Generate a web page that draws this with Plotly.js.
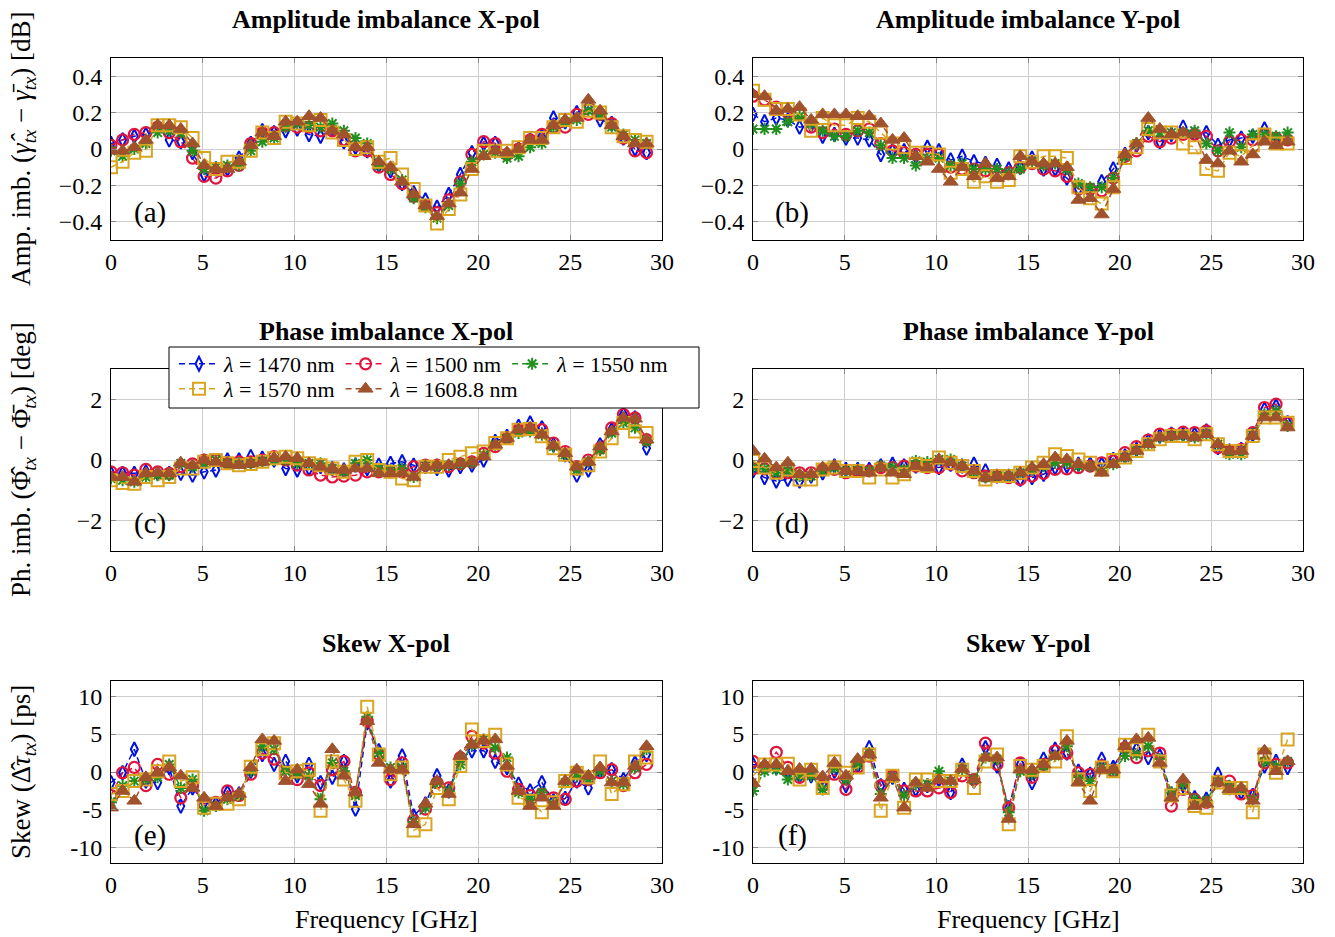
<!DOCTYPE html>
<html><head><meta charset="utf-8">
<script src="https://cdn.plot.ly/plotly-3.0.1.min.js"></script>
<style>html,body{margin:0;padding:0;background:#fff}</style>
</head><body><div id="chart" style="width:1335px;height:937px"></div>
<script>
// Frequency grid [GHz]
const freq = [0,0.63,1.27,1.9,2.54,3.17,3.8,4.44,5.07,5.71,6.34,6.97,7.61,8.24,8.88,9.51,10.14,10.78,11.41,12.05,12.68,13.31,13.95,14.58,15.22,15.85,16.48,17.12,17.75,18.39,19.02,19.65,20.29,20.92,21.56,22.19,22.82,23.46,24.09,24.73,25.36,25.99,26.63,27.26,27.9,28.53,29.16];

// (a) Amplitude imbalance X-pol [dB]
const ampX1470 = [0.03,0.05,0.07,0.08,0.12,0.05,0.04,-0.02,-0.14,-0.11,-0.11,-0.05,0.03,0.10,0.09,0.10,0.11,0.08,0.07,0.11,0.04,0.01,-0.01,-0.09,-0.12,-0.19,-0.24,-0.28,-0.32,-0.25,-0.14,-0.02,0.03,0.03,-0.03,0.00,0.05,0.07,0.17,0.15,0.20,0.23,0.16,0.14,0.06,0.00,-0.02];
const ampX1500 = [0.02,0.05,0.08,0.09,0.12,0.09,0.04,-0.05,-0.15,-0.16,-0.12,-0.09,0.03,0.09,0.09,0.13,0.12,0.12,0.10,0.10,0.05,-0.01,-0.01,-0.10,-0.14,-0.19,-0.26,-0.31,-0.35,-0.28,-0.18,-0.03,0.04,0.03,-0.03,0.00,0.05,0.08,0.12,0.12,0.19,0.19,0.19,0.14,0.06,-0.01,-0.02];
const ampX1550 = [-0.01,-0.04,0.00,0.03,0.09,0.10,0.09,-0.01,-0.11,-0.10,-0.09,-0.09,-0.01,0.04,0.06,0.12,0.14,0.13,0.12,0.14,0.10,0.06,0.03,-0.09,-0.11,-0.17,-0.27,-0.32,-0.38,-0.31,-0.19,-0.07,-0.03,-0.02,-0.05,-0.04,0.01,0.03,0.12,0.15,0.16,0.21,0.19,0.12,0.08,0.05,0.03];
const ampX1570 = [-0.10,-0.07,-0.02,-0.01,0.13,0.13,0.12,0.06,-0.05,-0.11,-0.07,-0.07,-0.01,0.09,0.06,0.15,0.14,0.13,0.16,0.09,0.05,0.00,0.01,-0.07,-0.05,-0.14,-0.22,-0.31,-0.41,-0.33,-0.25,-0.11,-0.01,-0.01,-0.01,0.01,0.06,0.06,0.12,0.16,0.15,0.21,0.20,0.12,0.07,0.05,0.04];
const ampX1608 = [-0.01,-0.01,0.01,0.05,0.13,0.13,0.11,0.03,-0.09,-0.11,-0.11,-0.07,0.02,0.09,0.07,0.15,0.15,0.18,0.17,0.10,0.08,0.01,0.01,-0.07,-0.10,-0.18,-0.25,-0.31,-0.37,-0.30,-0.24,-0.11,-0.04,-0.01,-0.02,0.00,0.05,0.05,0.13,0.16,0.17,0.27,0.21,0.13,0.07,0.03,0.03];

// (b) Amplitude imbalance Y-pol [dB]
const ampY1470 = [0.19,0.15,0.17,0.16,0.12,0.13,0.07,0.08,0.06,0.06,0.05,-0.03,-0.01,-0.01,-0.04,0.01,-0.01,-0.06,-0.04,-0.07,-0.08,-0.09,-0.11,-0.10,-0.05,-0.11,-0.11,-0.16,-0.22,-0.24,-0.18,-0.11,-0.03,0.02,0.09,0.04,0.08,0.12,0.08,0.09,0.02,0.05,0.06,0.07,0.11,0.04,0.06];
const ampY1500 = [0.29,0.27,0.23,0.20,0.19,0.12,0.09,0.11,0.08,0.10,0.11,0.03,-0.01,-0.02,-0.03,-0.03,-0.03,-0.10,-0.11,-0.11,-0.12,-0.13,-0.13,-0.10,-0.08,-0.11,-0.12,-0.15,-0.22,-0.22,-0.23,-0.16,-0.04,-0.01,0.07,0.04,0.06,0.08,0.08,0.07,-0.01,0.04,0.05,0.05,0.08,0.06,0.05];
const ampY1550 = [0.11,0.11,0.11,0.15,0.18,0.14,0.10,0.07,0.07,0.10,0.09,0.02,-0.05,-0.05,-0.09,-0.05,-0.05,-0.09,-0.08,-0.11,-0.11,-0.11,-0.13,-0.11,-0.07,-0.09,-0.08,-0.11,-0.19,-0.21,-0.21,-0.16,-0.04,0.03,0.10,0.09,0.09,0.09,0.10,0.03,-0.01,0.09,0.01,0.08,0.08,0.07,0.09];
const ampY1570 = [0.32,0.27,0.22,0.22,0.19,0.10,0.17,0.13,0.13,0.17,0.15,0.09,0.03,0.01,-0.02,-0.02,-0.03,-0.13,-0.11,-0.18,-0.15,-0.18,-0.17,-0.04,-0.07,-0.04,-0.04,-0.05,-0.21,-0.27,-0.30,-0.21,-0.05,0.01,0.11,0.09,0.09,0.03,0.01,-0.11,-0.12,-0.02,-0.04,0.02,0.08,0.03,0.03];
const ampY1608 = [0.30,0.29,0.21,0.22,0.23,0.16,0.19,0.19,0.19,0.18,0.18,0.14,0.05,0.06,-0.04,-0.07,-0.11,-0.18,-0.10,-0.15,-0.08,-0.16,-0.15,-0.04,-0.07,-0.08,-0.08,-0.10,-0.28,-0.27,-0.36,-0.22,-0.03,0.03,0.17,0.11,0.08,0.09,0.08,-0.06,-0.08,-0.01,-0.07,-0.03,0.04,0.02,0.04];

// (c) Phase imbalance X-pol [deg]
const phX1470 = [-0.44,-0.44,-0.44,-0.39,-0.44,-0.44,-0.44,-0.50,-0.39,-0.33,0.00,0.00,0.11,0.06,0.00,-0.28,-0.33,-0.28,-0.22,-0.28,-0.33,-0.17,-0.28,-0.17,-0.11,-0.06,-0.17,-0.22,-0.28,-0.33,-0.22,-0.17,0.00,0.61,0.78,1.11,1.22,1.06,0.50,0.17,-0.50,-0.33,0.50,1.00,1.50,1.39,0.39];
const phX1500 = [-0.39,-0.42,-0.50,-0.31,-0.39,-0.44,-0.22,-0.13,0.00,0.00,-0.09,-0.06,-0.06,0.00,0.11,0.00,-0.17,-0.33,-0.50,-0.56,-0.53,-0.50,-0.39,-0.39,-0.39,-0.39,-0.22,-0.17,-0.17,-0.22,-0.13,-0.06,0.22,0.44,0.72,1.00,1.02,1.00,0.56,0.28,-0.22,0.00,0.39,1.06,1.50,1.39,0.67];
const phX1550 = [-0.61,-0.67,-0.72,-0.56,-0.50,-0.50,-0.11,-0.22,-0.11,0.00,-0.11,-0.11,-0.11,-0.06,0.00,0.00,-0.11,-0.11,-0.11,-0.28,-0.39,-0.11,0.00,-0.28,-0.33,-0.28,-0.56,-0.17,-0.20,-0.17,-0.13,-0.09,0.17,0.50,0.72,0.89,0.94,0.83,0.44,0.17,-0.33,-0.06,0.33,0.89,1.22,1.06,0.61];
const phX1570 = [-0.67,-0.76,-0.78,-0.56,-0.67,-0.56,-0.28,-0.28,-0.06,0.00,-0.11,-0.17,-0.13,-0.06,0.06,0.11,0.06,-0.11,-0.17,-0.28,-0.39,-0.06,0.00,-0.33,-0.39,-0.61,-0.67,-0.22,-0.22,0.00,0.11,0.22,0.28,0.56,0.72,1.00,1.02,0.78,0.39,0.17,-0.28,-0.17,0.28,0.72,1.22,0.94,0.89];
const phX1608 = [-0.56,-0.56,-0.72,-0.44,-0.42,-0.44,-0.09,-0.17,0.00,-0.06,-0.11,-0.17,-0.11,-0.06,0.06,0.11,0.06,-0.11,-0.22,-0.28,-0.33,-0.28,-0.28,-0.44,-0.44,-0.44,-0.56,-0.22,-0.17,-0.17,-0.11,-0.06,0.11,0.50,0.72,1.00,1.06,0.83,0.47,0.22,-0.22,-0.06,0.44,0.94,1.39,1.36,0.67];

// (d) Phase imbalance Y-pol [deg]
const phY1470 = [-0.36,-0.58,-0.69,-0.64,-0.69,-0.53,-0.42,-0.20,-0.31,-0.31,-0.31,-0.20,-0.14,-0.20,-0.20,-0.20,-0.25,-0.14,-0.20,-0.14,-0.36,-0.53,-0.53,-0.64,-0.58,-0.47,-0.25,-0.20,-0.14,-0.14,-0.14,0.02,0.13,0.35,0.63,0.79,0.85,0.85,0.85,0.96,0.41,0.30,0.35,0.85,1.67,1.78,1.23];
const phY1500 = [-0.29,-0.29,-0.42,-0.42,-0.42,-0.42,-0.31,-0.31,-0.42,-0.36,-0.36,-0.25,-0.25,-0.20,-0.20,-0.25,-0.25,-0.14,-0.36,-0.42,-0.53,-0.53,-0.58,-0.64,-0.53,-0.44,-0.31,-0.29,-0.25,-0.20,-0.09,-0.03,0.24,0.44,0.66,0.85,0.85,0.92,0.90,0.96,0.41,0.30,0.35,0.90,1.73,1.84,1.23];
const phY1550 = [-0.25,-0.29,-0.42,-0.36,-0.53,-0.53,-0.36,-0.25,-0.36,-0.31,-0.36,-0.20,-0.25,-0.31,-0.03,-0.07,0.02,0.02,-0.20,-0.42,-0.58,-0.53,-0.53,-0.42,-0.31,-0.20,-0.09,-0.09,-0.20,-0.20,-0.36,-0.14,0.08,0.30,0.52,0.74,0.79,0.81,0.74,0.85,0.52,0.19,0.19,0.85,1.51,1.62,1.12];
const phY1570 = [-0.03,-0.25,-0.42,-0.31,-0.64,-0.64,-0.31,-0.25,-0.36,-0.36,-0.58,-0.31,-0.58,-0.47,-0.14,-0.20,0.08,-0.09,-0.20,-0.36,-0.64,-0.53,-0.53,-0.42,-0.25,-0.09,0.19,0.13,0.02,-0.09,-0.31,0.00,0.08,0.30,0.52,0.68,0.79,0.79,0.68,0.85,0.52,0.30,0.30,0.79,1.40,1.40,1.23];
const phY1608 = [0.30,0.04,-0.25,-0.09,-0.47,-0.47,-0.25,-0.20,-0.36,-0.36,-0.42,-0.25,-0.42,-0.47,-0.20,-0.25,0.02,-0.09,-0.20,-0.36,-0.58,-0.53,-0.53,-0.42,-0.25,-0.14,0.08,0.02,-0.14,-0.20,-0.42,-0.14,0.08,0.30,0.52,0.74,0.79,0.81,0.74,0.85,0.52,0.30,0.30,0.79,1.40,1.40,1.07];

// (e) Skew X-pol [ps]
const skX1470 = [-1.4,-0.1,3.0,-1.2,-1.4,0.6,-4.5,-2.1,-4.0,-4.2,-2.7,-2.9,0.1,2.3,1.0,1.4,-0.5,1.0,-1.4,-0.7,1.4,-4.9,6.5,2.8,-1.2,2.1,-5.8,-4.2,-0.5,-2.5,1.7,2.8,2.8,1.4,0.6,-1.6,-2.5,-1.4,-3.8,-3.5,-1.2,-2.1,0.1,0.3,-1.0,1.2,2.3];
const skX1500 = [-3.1,-0.1,0.6,-1.8,1.0,-0.3,-3.4,-1.8,-4.2,-4.0,-2.5,-3.1,-0.3,2.5,1.7,-0.3,-1.0,-0.1,-1.8,0.3,1.4,-2.7,6.7,2.3,-1.0,1.2,-6.4,-4.9,-1.4,-2.1,1.9,4.7,3.8,2.5,0.1,-2.3,-3.1,-2.9,-3.4,-3.6,-1.2,-1.0,-0.1,0.3,-1.8,-0.1,1.0];
const skX1550 = [-4.0,-1.8,-1.2,-1.0,-0.7,1.0,-2.1,-1.0,-5.1,-4.5,-3.6,-3.1,0.1,3.4,3.0,0.1,-0.3,-0.5,-3.6,1.2,0.1,-3.1,7.3,2.5,0.6,0.6,-6.6,-4.7,-1.4,-2.5,1.0,3.6,4.3,3.2,1.9,-2.7,-3.6,-2.7,-4.2,-1.4,-0.5,-1.0,0.1,-1.2,-1.6,0.6,3.0];
const skX1570 = [-2.9,-2.5,-1.2,-1.0,0.1,1.4,-1.2,-0.7,-4.7,-4.2,-4.2,-3.6,0.7,3.0,3.8,-0.1,0.1,0.3,-5.1,1.4,-1.0,-3.8,8.6,2.3,-0.3,0.6,-7.7,-6.9,-2.1,-3.6,0.8,5.6,4.1,4.9,1.0,-3.4,-3.8,-5.3,-4.0,-1.2,-0.1,-0.7,1.4,-2.9,-1.6,1.4,1.9];
const skX1608 = [-4.7,-2.5,-3.8,-0.7,-0.1,0.6,-0.5,-2.1,-3.4,-4.5,-3.4,-2.9,0.6,4.3,4.1,-1.2,0.3,-1.6,-4.2,3.0,-0.5,-2.7,6.7,1.2,0.3,0.3,-6.9,-4.2,-1.2,-2.9,2.1,3.6,4.1,4.3,0.8,-2.5,-4.5,-3.4,-4.5,-1.2,0.3,-0.5,0.6,-1.4,-1.4,0.8,3.4];

// (f) Skew Y-pol [ps]
const skY1470 = [1.0,0.7,0.6,0.0,-0.5,-0.5,-1.6,0.1,-1.8,0.8,3.2,-1.8,-0.7,-2.3,-2.3,-1.8,-1.0,-2.7,0.9,-1.2,3.2,0.8,-4.7,1.0,-1.4,1.7,3.0,2.5,0.1,-0.3,1.7,0.6,3.4,3.0,1.9,2.1,-2.9,-1.8,-3.4,-3.6,-0.3,-2.1,-2.7,-3.1,0.8,1.4,0.6];
const skY1500 = [1.4,0.6,2.6,0.6,-0.7,-0.1,-1.8,-0.3,-2.3,0.6,2.1,-1.8,-0.5,-2.5,-2.5,-2.5,-2.1,-2.7,-0.5,-1.0,3.8,1.0,-4.7,1.2,-0.7,1.0,2.8,2.5,-0.1,-0.3,0.8,0.1,3.2,1.9,2.8,2.5,-4.5,-2.3,-3.6,-4.0,-1.2,-1.2,-2.9,-3.1,1.2,1.0,1.2];
const skY1550 = [-2.5,0.1,0.3,-1.0,-0.5,-0.5,-2.3,0.6,-1.0,1.0,2.5,-2.9,-0.7,-3.1,-1.6,-1.6,0.1,-1.2,0.3,-1.0,1.9,1.7,-5.3,0.1,-0.3,0.8,2.1,3.4,-0.7,-1.2,0.6,0.1,2.1,2.3,3.4,1.7,-2.7,-1.6,-3.6,-3.8,-1.2,-1.8,-2.3,-3.6,1.4,0.8,1.4];
const skY1570 = [-0.5,1.0,1.0,1.1,-1.0,0.3,-2.1,1.4,-0.1,0.6,2.3,-5.1,-0.5,-4.7,-1.0,-1.0,-1.2,-1.2,0.3,-2.1,1.4,2.3,-6.9,0.8,0.3,0.8,1.4,4.7,-1.0,-2.5,0.6,0.1,3.6,3.0,4.9,1.4,-3.1,-2.1,-4.5,-4.7,-1.4,-2.1,-2.1,-5.3,2.3,-0.1,4.3];
const skY1608 = [-1.5,1.0,1.0,0.1,0.4,0.4,-0.6,1.2,-0.5,1.7,2.3,-3.4,-0.7,-4.7,-1.4,-2.1,-1.0,-1.2,0.4,-1.0,1.9,1.9,-6.2,0.3,0.3,1.0,2.1,4.1,-1.4,-3.8,0.3,0.3,3.4,4.3,4.5,1.2,-3.4,-1.0,-4.5,-4.2,-1.4,-2.3,-2.1,-3.8,2.8,0.1,1.4];

// Series and panel metadata
const seriesNames = ['<i>λ</i> = 1470 nm','<i>λ</i> = 1500 nm','<i>λ</i> = 1550 nm','<i>λ</i> = 1570 nm','<i>λ</i> = 1608.8 nm'];
const panelTitles = ['Amplitude imbalance X-pol','Amplitude imbalance Y-pol','Phase imbalance X-pol','Phase imbalance Y-pol','Skew X-pol','Skew Y-pol'];
const panelLabels = ['(a)','(b)','(c)','(d)','(e)','(f)'];
const xTickVals = [0,5,10,15,20,25,30];
const xTickText = ['0','5','10','15','20','25','30'];
const ampTickVals = [-0.4,-0.2,0,0.2,0.4];
const ampTickText = ['−0.4','−0.2','0','0.2','0.4'];
const phTickVals = [-2,0,2];
const phTickText = ['−2','0','2'];
const skTickVals = [-10,-5,0,5,10];
const skTickText = ['-10','-5','0','5','10'];
const rowYTitles = [
  'Amp. imb. (<i>γ̂</i><sub><i>tx</i></sub> − <i>γ̄</i><sub><i>tx</i></sub>) [dB]',
  'Ph. imb. (Φ̂<sub><i>tx</i></sub> − Φ̄<sub><i>tx</i></sub>) [deg]',
  'Skew (Δ̂<i>τ</i><sub><i>tx</i></sub>) [ps]'
];
const xTitle = 'Frequency [GHz]';

const panelData = [
  [ampX1470, ampX1500, ampX1550, ampX1570, ampX1608],
  [ampY1470, ampY1500, ampY1550, ampY1570, ampY1608],
  [phX1470, phX1500, phX1550, phX1570, phX1608],
  [phY1470, phY1500, phY1550, phY1570, phY1608],
  [skX1470, skX1500, skX1550, skX1570, skX1608],
  [skY1470, skY1500, skY1550, skY1570, skY1608]
];

// Styles
const colors = ['#0010e0','#e0143c','#22901e','#daa520','#a0522d'];
const symbols = ['diamond-tall-open','circle-open','asterisk-open','square-open','triangle-up'];
const sizes = [10,11,10,12,13];
const mlw = [2,2.2,2,2,1];

const W = 1335, H = 937;
const FONT = 'Liberation Serif';
// pixel boxes of plot areas
const colX = [[111,662],[753,1303]];
const rowY = [[58,240],[369,551],[681,863]];

const traces = [];
panelData.forEach((series, p) => {
  const ax = p === 0 ? '' : String(p + 1);
  series.forEach((vals, s) => {
    traces.push({
      x: freq, y: vals, xaxis: 'x' + ax, yaxis: 'y' + ax,
      type: 'scatter', mode: 'lines+markers',
      name: seriesNames[s],
      legend: s < 3 ? 'legend' : 'legend2',
      showlegend: p === 0,
      line: {color: colors[s], width: 1.5, dash: '6px,4px'},
      marker: {symbol: symbols[s], size: sizes[s], color: colors[s], line: {color: colors[s], width: mlw[s]}},
      hoverinfo: 'x+y+name'
    });
  });
});

const legendBase = {orientation: 'h', x: 174/W, xanchor: 'left', yanchor: 'top',
  bgcolor: 'rgba(0,0,0,0)', borderwidth: 0, font: {family: FONT, size: 22, color: '#000'},
  itemwidth: 40, traceorder: 'normal'};

const layout = {
  width: W, height: H, autosize: false,
  margin: {l: 0, r: 0, t: 0, b: 0},
  paper_bgcolor: '#fff', plot_bgcolor: '#fff',
  font: {family: FONT, color: '#000'},
  showlegend: true,
  legend: Object.assign({}, legendBase, {y: 1 - 343/H}),
  legend2: Object.assign({}, legendBase, {y: 1 - 368/H}),
  shapes: [{type: 'rect', xref: 'paper', yref: 'paper', x0: 169/W, x1: 699/W, y0: 1 - 408/H, y1: 1 - 347/H,
    fillcolor: '#fff', line: {color: '#000', width: 1}, layer: 'above'}],
  annotations: []
};

const yTicks = [[ampTickVals, ampTickText, [-0.5, 0.5]], [phTickVals, phTickText, [-3, 3]], [skTickVals, skTickText, [-12, 12]]];

for (let p = 0; p < 6; p++) {
  const r = Math.floor(p / 2), c = p % 2;
  const ax = p === 0 ? '' : String(p + 1);
  const common = {showgrid: true, gridcolor: '#cdcdcd', gridwidth: 1, zeroline: false,
    showline: true, linecolor: '#000', linewidth: 1, mirror: 'ticks', ticks: 'inside', ticklen: 5,
    tickcolor: '#888', tickfont: {family: FONT, size: 24, color: '#000'}, fixedrange: true};
  layout['xaxis' + ax] = Object.assign({}, common, {
    domain: [colX[c][0]/W, colX[c][1]/W], anchor: 'y' + ax, range: [0, 30],
    tickmode: 'array', tickvals: xTickVals, ticktext: xTickText
  });
  layout['yaxis' + ax] = Object.assign({}, common, {
    domain: [1 - rowY[r][1]/H, 1 - rowY[r][0]/H], anchor: 'x' + ax, range: yTicks[r][2],
    tickmode: 'array', tickvals: yTicks[r][0], ticktext: yTicks[r][1], ticklabelstandoff: 3
  });
  // subplot title
  layout.annotations.push({text: '<b>' + panelTitles[p] + '</b>', xref: 'paper', yref: 'paper',
    x: (colX[c][0] + colX[c][1]) / 2 / W, y: 1 - (rowY[r][0] - 38) / H, xanchor: 'center', yanchor: 'middle',
    showarrow: false, font: {family: FONT, size: 26, color: '#000'}});
  // panel label
  layout.annotations.push({text: panelLabels[p], xref: 'x' + ax + ' domain', yref: 'y' + ax + ' domain',
    x: 0.071, y: 0.15, xanchor: 'center', yanchor: 'middle', showarrow: false,
    font: {family: FONT, size: 29, color: '#000'}});
}
// row y titles
for (let r = 0; r < 3; r++) {
  layout.annotations.push({text: rowYTitles[r], xref: 'paper', yref: 'paper', x: 23/W,
    y: 1 - (rowY[r][0] + rowY[r][1]) / 2 / H, xanchor: 'center', yanchor: 'middle', textangle: -90,
    showarrow: false, font: {family: FONT, size: 27, color: '#000'}});
}
// x titles
for (let c = 0; c < 2; c++) {
  layout.annotations.push({text: xTitle, xref: 'paper', yref: 'paper',
    x: (colX[c][0] + colX[c][1]) / 2 / W, y: 1 - 919/H, xanchor: 'center', yanchor: 'middle',
    showarrow: false, font: {family: FONT, size: 26, color: '#000'}});
}

Plotly.newPlot('chart', traces, layout, {staticPlot: true, displayModeBar: false});
</script>
</body></html>
